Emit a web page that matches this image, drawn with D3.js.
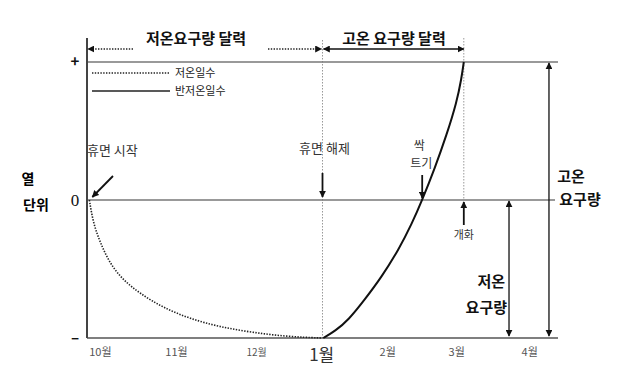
<!DOCTYPE html>
<html>
<head>
<meta charset="utf-8">
<script src="https://d3js.org/d3.v7.min.js"></script>
<style>
  body { margin: 0; background: #fff; }
  text { font-family: "Noto Sans CJK KR", "Noto Sans", sans-serif; }
</style>
</head>
<body>
<div id="chart"></div>
<script>

// month ticks (position in months from 1 Oct)
var monthLabels = ["10월", "11월", "12월", "1월", "2월", "3월", "4월"];
var monthPos = [0.17, 1.14, 2.16, 2.99, 3.83, 4.71, 5.64];

// chill accumulation (저온일수), dotted
var chillX = [0.03, 0.08, 0.17, 0.29, 0.46, 0.68, 0.97, 1.31, 1.69, 2.11, 2.55, 2.99];
var chillY = [0, -0.17, -0.31, -0.46, -0.58, -0.68, -0.78, -0.86, -0.92, -0.96, -0.99, -1];

// heat accumulation (반저온일수), solid
var heatX = [3.01, 3.16, 3.33, 3.54, 3.75, 3.97, 4.14, 4.27, 4.43, 4.58, 4.71, 4.77, 4.80];
var heatY = [-1, -0.95, -0.87, -0.72, -0.56, -0.36, -0.17, 0, 0.23, 0.47, 0.71, 0.88, 1];

// phenology events
var eventNames = ["휴면 시작", "휴면 해제", "싹트기", "개화"];
var eventPos = [0.03, 3.0, 4.27, 4.80];

// y ticks
var yTickLabels = ["+", "0", "–"];
var yTickVals = [1, 0, -1];

var width = 623, height = 386;

var svg = d3.select("#chart").append("svg")
    .attr("width", width)
    .attr("height", height);

var x = d3.scaleLinear().domain([0, 6]).range([87, 558]);
var y = d3.scaleLinear().domain([-1, 1]).range([338, 62]);

// arrow markers
var defs = svg.append("defs");
function marker(id, orient) {
  defs.append("marker")
      .attr("id", id)
      .attr("viewBox", "0 -5 10 10")
      .attr("refX", 9)
      .attr("refY", 0)
      .attr("markerWidth", 7)
      .attr("markerHeight", 7)
      .attr("markerUnits", "userSpaceOnUse")
      .attr("orient", orient)
    .append("path")
      .attr("d", "M0,-5L10,0L0,5Z")
      .attr("fill", "#111");
}
marker("arrow", "auto");
marker("arrowStart", "auto-start-reverse");

// gray dotted guides for 휴면 해제 and 개화
svg.append("line")
    .attr("x1", x(eventPos[1])).attr("x2", x(eventPos[1]))
    .attr("y1", 40).attr("y2", y(-1))
    .attr("stroke", "#999").attr("stroke-width", 1)
    .attr("stroke-dasharray", "1.5,1.5");
svg.append("line")
    .attr("x1", x(eventPos[3])).attr("x2", x(eventPos[3]))
    .attr("y1", 38).attr("y2", y(0))
    .attr("stroke", "#999").attr("stroke-width", 1)
    .attr("stroke-dasharray", "1.5,1.5");

// horizontal reference lines
svg.append("line")
    .attr("x1", x(0)).attr("x2", x(6))
    .attr("y1", y(1)).attr("y2", y(1))
    .attr("stroke", "#777").attr("stroke-width", 1.5);
svg.append("line")
    .attr("x1", x(0)).attr("x2", 555)
    .attr("y1", y(0)).attr("y2", y(0))
    .attr("stroke", "#777").attr("stroke-width", 1.5);
svg.append("line")
    .attr("x1", x(0)).attr("x2", x(6))
    .attr("y1", y(-1)).attr("y2", y(-1))
    .attr("stroke", "#555").attr("stroke-width", 1.5);

// y axis
svg.append("line")
    .attr("x1", x(0)).attr("x2", x(0))
    .attr("y1", 38).attr("y2", y(-1))
    .attr("stroke", "#444").attr("stroke-width", 2);

// y tick labels
svg.selectAll(".ytick")
    .data(yTickVals)
    .enter().append("text")
    .attr("class", "ytick")
    .attr("x", 75)
    .attr("y", d => y(d))
    .attr("dy", "0.35em")
    .attr("text-anchor", "middle")
    .style("font-family", (d, i) => i == 1 ? "'Liberation Serif', serif" : null)
    .attr("font-size", (d, i) => i == 1 ? 17 : 15)
    .attr("font-weight", (d, i) => i == 1 ? "normal" : "bold")
    .attr("fill", "#111")
    .text((d, i) => yTickLabels[i]);

// y title
svg.append("text").attr("x", 28).attr("y", 179).attr("dy", "0.35em")
    .attr("text-anchor", "middle").attr("font-size", 14).attr("font-weight", "bold")
    .text("열");
svg.append("text").attr("x", 36).attr("y", 205).attr("dy", "0.35em")
    .attr("text-anchor", "middle").attr("font-size", 14).attr("font-weight", "bold")
    .text("단위");

// month labels
svg.selectAll(".month")
    .data(monthLabels)
    .enter().append("text")
    .attr("class", "month")
    .attr("x", (d, i) => x(monthPos[i]))
    .attr("y", (d, i) => i == 3 ? 355 : 352)
    .attr("dy", "0.35em")
    .attr("text-anchor", "middle")
    .attr("font-size", (d, i) => i == 3 ? 17 : (i == 2 ? 10 : 11))
    .attr("fill", (d, i) => i == 3 ? "#333" : "#555")
    .text(d => d);

// curves
var chill = chillX.map((d, i) => [d, chillY[i]]);
var heat = heatX.map((d, i) => [d, heatY[i]]);
var line = d3.line()
    .x(d => x(d[0]))
    .y(d => y(d[1]))
    .curve(d3.curveBasis);

svg.append("path")
    .attr("d", line(chill))
    .attr("fill", "none")
    .attr("stroke", "#222")
    .attr("stroke-width", 1.6)
    .attr("stroke-dasharray", "1.4,1.4");

svg.append("path")
    .attr("d", line(heat))
    .attr("fill", "none")
    .attr("stroke", "#111")
    .attr("stroke-width", 2);

// legend
var legend = [["저온일수", "1.4,1.4", 73], ["반저온일수", null, 91]];
legend.forEach(function(l) {
  svg.append("line")
      .attr("x1", 92).attr("x2", 170)
      .attr("y1", l[2]).attr("y2", l[2])
      .attr("stroke", "#222")
      .attr("stroke-width", l[1] ? 1.5 : 1.6)
      .attr("stroke-dasharray", l[1]);
  svg.append("text")
      .attr("x", 175).attr("y", l[2]).attr("dy", "0.35em")
      .attr("font-size", 11).attr("fill", "#222")
      .text(l[0]);
});

// calendar headers
var calY = 49;
svg.append("text")
    .attr("x", 196).attr("y", 39).attr("dy", "0.35em")
    .attr("text-anchor", "middle").attr("font-size", 15).attr("font-weight", "bold")
    .attr("fill", "#111")
    .text("저온요구량 달력");
svg.append("text")
    .attr("x", 394).attr("y", 39).attr("dy", "0.35em")
    .attr("text-anchor", "middle").attr("font-size", 15).attr("font-weight", "bold")
    .attr("fill", "#111")
    .text("고온 요구량 달력");

svg.append("line")
    .attr("x1", 133).attr("x2", x(0) + 1)
    .attr("y1", calY).attr("y2", calY)
    .attr("stroke", "#222").attr("stroke-width", 1.5)
    .attr("stroke-dasharray", "1.4,1.4")
    .attr("marker-end", "url(#arrow)");
svg.append("line")
    .attr("x1", 268).attr("x2", x(eventPos[1]) - 1)
    .attr("y1", calY).attr("y2", calY)
    .attr("stroke", "#222").attr("stroke-width", 1.5)
    .attr("stroke-dasharray", "1.4,1.4")
    .attr("marker-end", "url(#arrow)");
svg.append("line")
    .attr("x1", x(eventPos[1]) + 1).attr("x2", x(eventPos[3]))
    .attr("y1", calY).attr("y2", calY)
    .attr("stroke", "#111").attr("stroke-width", 1.5)
    .attr("marker-start", "url(#arrowStart)")
    .attr("marker-end", "url(#arrow)");

// event annotations
function arrow(x1, y1, x2, y2) {
  svg.append("line")
      .attr("x1", x1).attr("y1", y1).attr("x2", x2).attr("y2", y2)
      .attr("stroke", "#111").attr("stroke-width", 1.8)
      .attr("marker-end", "url(#arrow)");
}
function label(txt, tx, ty, size, anchor) {
  svg.append("text")
      .attr("x", tx).attr("y", ty).attr("dy", "0.35em")
      .attr("text-anchor", anchor || "middle")
      .attr("font-size", size).attr("fill", "#333")
      .text(txt);
}

// 휴면 시작
label(eventNames[0], 87, 150, 13, "start");
arrow(113, 176, x(eventPos[0]) + 3, y(0) - 3);

// 휴면 해제
label(eventNames[1], x(eventPos[1]) + 2, 148, 13);
arrow(x(eventPos[1]), 173, x(eventPos[1]), y(0) - 3);

// 싹트기
label(eventNames[2].slice(0, 1), x(eventPos[2]) - 3, 146, 12);
label(eventNames[2].slice(1), x(eventPos[2]) - 1, 164, 12);
arrow(x(eventPos[2]), 175, x(eventPos[2]), y(0) - 2);

// 개화
arrow(x(eventPos[3]), 225, x(eventPos[3]), y(0) + 2);
label(eventNames[3], x(eventPos[3]), 235, 11);

// requirement spans on the right
var heatReqX = 5.885, chillReqX = 5.376;
svg.append("line")
    .attr("x1", x(heatReqX)).attr("x2", x(heatReqX))
    .attr("y1", y(1) + 1).attr("y2", y(-1) - 2)
    .attr("stroke", "#111").attr("stroke-width", 1.3)
    .attr("marker-start", "url(#arrowStart)")
    .attr("marker-end", "url(#arrow)");
svg.append("line")
    .attr("x1", x(chillReqX)).attr("x2", x(chillReqX))
    .attr("y1", y(0) + 1).attr("y2", y(-1) - 2)
    .attr("stroke", "#111").attr("stroke-width", 1.3)
    .attr("marker-start", "url(#arrowStart)")
    .attr("marker-end", "url(#arrow)");

svg.append("text").attr("x", 571).attr("y", 177).attr("dy", "0.35em")
    .attr("text-anchor", "middle").attr("font-size", 15).attr("font-weight", "bold")
    .attr("fill", "#111").text("고온");
svg.append("text").attr("x", 580).attr("y", 200).attr("dy", "0.35em")
    .attr("text-anchor", "middle").attr("font-size", 15).attr("font-weight", "bold")
    .attr("fill", "#111").text("요구량");
svg.append("text").attr("x", 505).attr("y", 282).attr("dy", "0.35em")
    .attr("text-anchor", "end").attr("font-size", 15).attr("font-weight", "bold")
    .attr("fill", "#111").text("저온");
svg.append("text").attr("x", 507).attr("y", 308).attr("dy", "0.35em")
    .attr("text-anchor", "end").attr("font-size", 15).attr("font-weight", "bold")
    .attr("fill", "#111").text("요구량");

</script>
</body>
</html>
